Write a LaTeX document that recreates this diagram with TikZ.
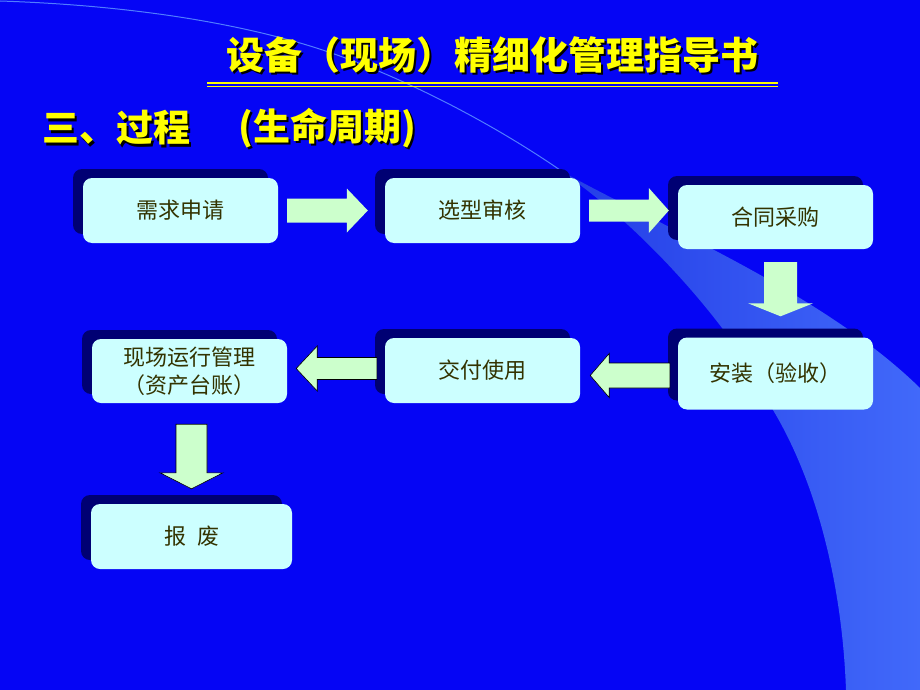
\documentclass[tikz,border=0pt]{standalone}
\usepackage{fontspec}
\newfontfamily\cjk{Noto Sans CJK SC}
\usetikzlibrary{calc,shadows}
\definecolor{bgblue}{RGB}{5,5,245}
\definecolor{bandlo}{RGB}{35,60,230}
\definecolor{bandhi}{RGB}{65,105,250}
\definecolor{thinblue}{RGB}{80,125,255}
\definecolor{boxfill}{RGB}{204,255,255}
\definecolor{arrfillc}{RGB}{204,255,204}
\definecolor{shadowcol}{RGB}{0,0,115}
\definecolor{boxtext}{RGB}{51,51,0}
\definecolor{ttlyellow}{RGB}{255,255,0}
\tikzset{
  box/.style={fill=boxfill, rounded corners=9pt, minimum width=195pt, minimum height=65pt,
    inner sep=0pt, font=\cjk\fontsize{22}{28}\selectfont, text=boxtext, align=center,
    drop shadow={shadow xshift=-10pt, shadow yshift=9pt, fill=shadowcol, opacity=1}},
  arrfill/.style={fill=arrfillc},
  arrline/.style={fill=arrfillc, draw=black, line width=0.6pt},
  ttl/.style={inner sep=0pt, font=\cjk\bfseries\fontsize{38}{44}\selectfont},
  sub/.style={inner sep=0pt, font=\cjk\bfseries\fontsize{37}{42}\selectfont}
}
\newcommand\blockarrow[6][arrfill]{%
  \path ($(#3)!#4!(#2)$) coordinate (ba-base);
  \path[#1] ($(#2)!#5!90:(#3)$) -- ($(ba-base)!#5!90:(#3)$) -- ($(ba-base)!#6!90:(#3)$) -- (#3)
    -- ($(ba-base)!#6!-90:(#3)$) -- ($(ba-base)!#5!-90:(#3)$) -- ($(#2)!#5!-90:(#3)$) -- cycle;}
\begin{document}
\begin{tikzpicture}[x=1pt,y=-1pt]
\useasboundingbox (0,0) rectangle (920,690);
\fill[bgblue] (0,0) rectangle (920,690);
% swoosh
\shade[left color=bandlo, right color=bandhi]
  (556,168) .. controls (650,222) and (820,290) .. (920,388) -- (920,690) -- (846,690)
  .. controls (842,580) and (815,480) .. (773,410) .. controls (745,345) and (650,230) .. (556,168) -- cycle;
\draw[thinblue, line width=1pt] (0,1) .. controls (120,5) and (220,20) .. (300,43)
  .. controls (380,66) and (480,115) .. (560,170);
% title
\node[ttl, text=black] (ttlsh) at (494.5,57.5) {设备（现场）精细化管理指导书};
\node[ttl, text=ttlyellow] (ttl) at (492,55) {设备（现场）精细化管理指导书};
\fill[ttlyellow] (207,82) rectangle (778,84.5);
\fill[ttlyellow] (207,86) rectangle (778,87.2);
% subtitle
\node[sub, text=black, anchor=west] (s1sh) at (44.5,130.5) {三、过程};
\node[sub, text=ttlyellow, anchor=west] (s1) at (42,128) {三、过程};
\node[sub, text=black, anchor=west] (s2sh) at (240.5,130.5) {(生命周期)};
\node[sub, text=ttlyellow, anchor=west] (s2) at (238,128) {(生命周期)};
% boxes
\node[box] (n1) at (180.5,210.5) {需求申请};
\node[box] (n2) at (482.5,210.5) {选型审核};
\node[box, minimum height=64pt] (n3) at (775.5,217) {合同采购};
\node[box, minimum height=72pt] (n4) at (775.5,373.5) {安装（验收）};
\node[box] (n5) at (482.5,370.5) {交付使用};
\node[box, minimum height=64pt] (n6) at (189.5,371) {现场运行管理\\（资产台账）};
\node[box, minimum width=201pt] (n7) at (191.5,536.5) {报\hspace{0.5em}废};
% arrows
\blockarrow{$(n1.east)+(9,0)$}{$(n2.west)+(-17,0)$}{21pt}{12pt}{22pt}
\blockarrow{$(n2.east)+(9,0)$}{$(n3.west |- n2.east)+(-9,0)$}{20pt}{11pt}{22.5pt}
\blockarrow{$(n3.south)+(5,13)$}{$(n4.north)+(5,-21)$}{13pt}{16.5pt}{32.5pt}
\blockarrow[arrline]{$(n4.west)+(-8,2)$}{$(n5.east |- n4.west)+(10,2)$}{19pt}{12.5pt}{22pt}
\blockarrow[arrline]{$(n5.west)+(-8,-2)$}{$(n6.east |- n5.west)+(9,-2)$}{21pt}{11pt}{22.5pt}
\blockarrow[arrline]{$(n6.south)+(2,21)$}{$(n7.north)+(0,-15)$}{16pt}{15.5pt}{31.5pt}
\end{tikzpicture}
\end{document}
